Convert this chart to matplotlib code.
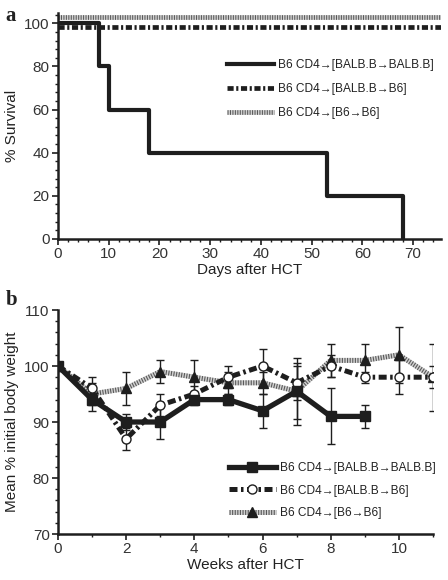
import matplotlib
matplotlib.use("Agg")
import matplotlib.pyplot as plt
import matplotlib.transforms as mtransforms
from matplotlib.ticker import MultipleLocator
from matplotlib.legend_handler import HandlerTuple

plt.rcParams['font.family'] = ['Liberation Sans', 'DejaVu Sans']
plt.rcParams['text.color'] = '#222222'
plt.rcParams['axes.labelcolor'] = '#222222'

# ---- data, panel a (survival) ----
labels = ['B6 CD4\u2192[BALB.B\u2192BALB.B]',
          'B6 CD4\u2192[BALB.B\u2192B6]',
          'B6 CD4\u2192[B6\u2192B6]']
surv_days_bb = [0, 8, 10, 18, 53, 68]
surv_bb = [100, 80, 60, 40, 20, 0]
surv_days_flat = [0, 75.5]
surv_b6 = [100, 100]
surv_66 = [100, 100]

# ---- data, panel b (body weight) ----
weeks_bb = [0, 1, 2, 3, 4, 5, 6, 7, 8, 9]
wt_bb = [100, 94, 90, 90, 94, 94, 92, 95.5, 91, 91]
err_bb = [0, 2, 1.5, 3, 1, 1, 3, 6, 5, 2]
weeks_b6 = [0, 1, 2, 3, 4, 5, 6, 7, 8, 9, 10, 11]
wt_b6 = [100, 96, 87, 93, 95, 98, 100, 97, 100, 98, 98, 98]
err_b6 = [0, 2, 2, 2, 1.5, 2, 3, 3, 2, 1, 3, 2]
weeks_66 = [0, 1, 2, 3, 4, 5, 6, 7, 8, 9, 10, 11]
wt_66 = [100, 95, 96, 99, 98, 97, 97, 95.5, 101, 101, 102, 98]
err_66 = [0, 2, 3, 2, 3, 2, 2, 5, 3, 3, 5, 6]

INK = '#1e1e1e'

fig = plt.figure(figsize=(4.48, 5.8), dpi=100)
ax1 = fig.add_axes([0.1295, 0.588, 0.855, 0.3897])
ax2 = fig.add_axes([0.1295, 0.0793, 0.837, 0.3862])


def style_axes(ax):
    for s in ['top', 'right']:
        ax.spines[s].set_visible(False)
    for s in ['left', 'bottom']:
        ax.spines[s].set_linewidth(1.8)
        ax.spines[s].set_color(INK)
    ax.tick_params(which='major', length=4, width=1.2, color=INK,
                   labelsize=11, labelcolor='#333333', pad=2)
    ax.tick_params(which='minor', length=2.5, width=1.0, color=INK)


# ---- panel a ----
lw = 3.0
off_dn = mtransforms.offset_copy(ax1.transData, fig=fig, y=-3.0, units='points')
off_up = mtransforms.offset_copy(ax1.transData, fig=fig, y=4.2, units='points')

h66a, = ax1.plot(surv_days_flat, surv_66, color='0.82', lw=3.4,
                 transform=off_up, solid_capstyle='butt', zorder=2)
h66b, = ax1.plot(surv_days_flat, surv_66, color='0.35', lw=3.4,
                 linestyle=(0, (0.22, 0.3)), transform=off_up,
                 dash_capstyle='butt', zorder=2)
hb6, = ax1.plot(surv_days_flat, surv_b6, color=INK, lw=3.4,
                linestyle=(0, (1.3, 0.55, 0.45, 0.55)), transform=off_dn,
                dash_capstyle='butt', zorder=3)
hbb, = ax1.step(surv_days_bb, surv_bb, where='post', color=INK, lw=lw,
                zorder=4)

ax1.set_xlim(0, 75.5)
ax1.set_ylim(0, 104.8)
ax1.xaxis.set_major_locator(MultipleLocator(10))
ax1.xaxis.set_minor_locator(MultipleLocator(2))
ax1.yaxis.set_major_locator(MultipleLocator(20))
ax1.yaxis.set_minor_locator(MultipleLocator(4))
style_axes(ax1)
ax1.set_xlabel('Days after HCT', fontsize=11, labelpad=1)
ax1.set_ylabel('% Survival', fontsize=11, labelpad=4)

ax1.legend([hbb, hb6, (h66a, h66b)], labels, loc='center left',
           bbox_to_anchor=(0.441, 0.664), frameon=False, fontsize=8.6,
           handlelength=3.9, handletextpad=0.35, labelspacing=1.0,
           borderpad=0, borderaxespad=0,
           handler_map={tuple: HandlerTuple(ndivide=1)})

# ---- panel b ----
eb_kw = dict(fmt='none', ecolor=INK, elinewidth=1.0, capsize=3, capthick=1.0)
ax2.errorbar(weeks_66, wt_66, yerr=err_66, zorder=1, **eb_kw)
ax2.errorbar(weeks_b6, wt_b6, yerr=err_b6, zorder=1, **eb_kw)
ax2.errorbar(weeks_bb, wt_bb, yerr=err_bb, zorder=1, **eb_kw)

t1, = ax2.plot(weeks_66, wt_66, color='0.82', lw=3.6,
               solid_capstyle='butt', zorder=2)
t2, = ax2.plot(weeks_66, wt_66, color='0.35', lw=3.6,
               linestyle=(0, (0.22, 0.3)), dash_capstyle='butt',
               marker='^', ms=6.5, mfc=INK, mec=INK, zorder=3)
c1, = ax2.plot(weeks_b6, wt_b6, color=INK, lw=3.6,
               linestyle=(0, (1.6, 0.7, 0.5, 0.7)), dash_capstyle='butt',
               marker='o', ms=6.5, mfc='white', mec=INK, mew=1.0, zorder=4)
s1, = ax2.plot(weeks_bb, wt_bb, color=INK, lw=3.8, marker='s', ms=6.5,
               mfc=INK, mec=INK, zorder=5)

ax2.set_xlim(0, 11)
ax2.set_ylim(70, 110)
ax2.xaxis.set_major_locator(MultipleLocator(2))
ax2.xaxis.set_minor_locator(MultipleLocator(1))
ax2.yaxis.set_major_locator(MultipleLocator(10))
ax2.yaxis.set_minor_locator(MultipleLocator(2))
style_axes(ax2)
ax2.set_xlabel('Weeks after HCT', fontsize=11, labelpad=1)
ax2.set_ylabel('Mean % initial body weight', fontsize=11, labelpad=4)

ax2.legend([s1, c1, (t1, t2)], labels, loc='center left',
           bbox_to_anchor=(0.456, 0.194), frameon=False, fontsize=8.6,
           handlelength=3.9, handletextpad=0.35, labelspacing=0.85,
           borderpad=0, borderaxespad=0,
           handler_map={tuple: HandlerTuple(ndivide=1)})

# panel letters
fig.text(0.012, 0.99, 'a', fontsize=15, fontweight='bold',
         family=['Liberation Serif', 'DejaVu Serif'], va='top')
fig.text(0.012, 0.50, 'b', fontsize=15, fontweight='bold',
         family=['Liberation Serif', 'DejaVu Serif'], va='top')

fig.savefig('out.png', dpi=100)
